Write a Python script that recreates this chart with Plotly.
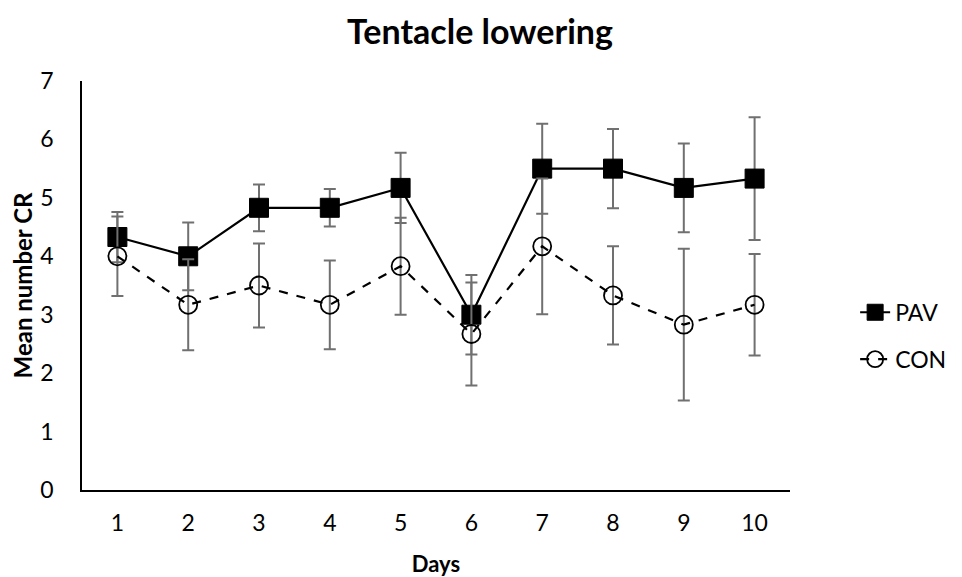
import plotly.graph_objects as go

days = [1, 2, 3, 4, 5, 6, 7, 8, 9, 10]
pav_mean = [4.33, 4.0, 4.83, 4.83, 5.17, 3.0, 5.5, 5.5, 5.17, 5.33]
pav_err = [0.43, 0.58, 0.40, 0.32, 0.60, 0.68, 0.77, 0.68, 0.76, 1.05]
con_mean = [4.0, 3.17, 3.5, 3.17, 3.83, 2.67, 4.17, 3.33, 2.83, 3.17]
con_err = [0.68, 0.78, 0.72, 0.76, 0.83, 0.88, 1.16, 0.84, 1.30, 0.87]

FONT = "Lato, 'Open Sans', sans-serif"
ERR_COLOR = "#707070"

W, H = 954, 569  # page body has an 8px margin

fig = go.Figure()
fig.add_trace(go.Scatter(
    x=days, y=pav_mean, name="PAV", mode="lines+markers",
    line=dict(color="black", width=2.2),
    marker=dict(symbol="square", size=19, color="black", line=dict(color="black", width=1)),
    error_y=dict(type="data", array=pav_err, visible=True, color=ERR_COLOR, thickness=2, width=6),
    legendgroup="a",
))
fig.add_trace(go.Scatter(
    x=days, y=con_mean, name="CON", mode="lines+markers",
    line=dict(color="black", width=2.2, dash="dash"),
    marker=dict(symbol="circle", size=18, color="rgba(255,255,255,0)", line=dict(color="black", width=1.8)),
    error_y=dict(type="data", array=con_err, visible=True, color=ERR_COLOR, thickness=2, width=6),
    legendgroup="b",
))

fig.update_layout(
    width=W, height=H,
    paper_bgcolor="white", plot_bgcolor="white",
    margin=dict(l=74, r=172, t=73, b=87, autoexpand=False),
    title=dict(text="<b>Tentacle lowering</b>", x=(480 - 8) / W, xanchor="center", xref="container",
               y=1 - 24 / H, yanchor="middle",
               font=dict(family=FONT, size=34, color="black")),
    font=dict(family=FONT, size=22, color="black"),
    showlegend=True,
    legend=dict(x=1.092, y=0.377, xanchor="left", yanchor="middle",
                font=dict(family=FONT, size=23, color="black"),
                tracegroupgap=14, traceorder="grouped", bgcolor="rgba(0,0,0,0)"),
    xaxis=dict(
        range=[0.5, 10.5], tickvals=days, ticktext=[str(d) for d in days],
        showline=True, linecolor="black", linewidth=1.5, ticks="",
        showgrid=False, zeroline=False, automargin=False,
        title=dict(text="<b>Days</b>", font=dict(family=FONT, size=22, color="black"), standoff=22),
        tickfont=dict(family=FONT, size=23, color="black"),
        ticklabelstandoff=12,
    ),
    yaxis=dict(
        range=[0, 7], dtick=1, tick0=0,
        showline=True, linecolor="black", linewidth=1.5, ticks="",
        showgrid=False, zeroline=False, automargin=False,
        title=dict(text="<b>Mean number CR</b>", font=dict(family=FONT, size=24, color="black"), standoff=10),
        tickfont=dict(family=FONT, size=23, color="black"),
        ticklabelstandoff=22,
    ),
)

fig.write_html("out.html")
